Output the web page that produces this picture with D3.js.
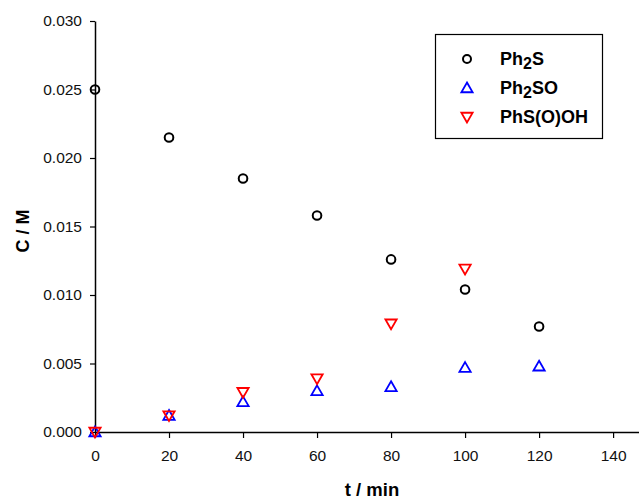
<!DOCTYPE html>
<html>
<head>
<meta charset="utf-8">
<script src="https://cdn.jsdelivr.net/npm/d3@7"></script>
<style>
  body { margin: 0; background: #fff; }
  text { font-family: Arial, "Liberation Sans", sans-serif; }
</style>
</head>
<body>
<div id="chart"></div>
<script>

// data
var times = [0, 20, 40, 60, 80, 100, 120];
var ph2s = [0.0250, 0.0215, 0.0185, 0.0158, 0.0126, 0.0104, 0.0077];
var ph2so = [0.0000, 0.0012, 0.0022, 0.0030, 0.0033, 0.0047, 0.0048];
var phsooh = [0.0000, 0.0012, 0.0029, 0.0039, 0.0079, 0.0119];
var xTicks = [0, 20, 40, 60, 80, 100, 120, 140];
var yTicks = [0, 0.005, 0.010, 0.015, 0.020, 0.025, 0.030];

var width = 639, height = 499;
var margin = {left: 95, top: 21, right: 0, bottom: 67};

var svg = d3.select("#chart")
    .append("svg")
    .attr("width", width)
    .attr("height", height);

var x = d3.scaleLinear()
    .domain([0, 147])
    .range([margin.left, width - margin.right]);

var y = d3.scaleLinear()
    .domain([0, 0.030])
    .range([height - margin.bottom, margin.top]);

var xAxis = svg.append("g")
    .attr("transform", "translate(0," + y(0) + ")")
    .call(d3.axisBottom(x).tickValues(xTicks).tickSize(6).tickPadding(12).tickSizeOuter(0));

var yAxis = svg.append("g")
    .attr("transform", "translate(" + x(0) + ",0)")
    .call(d3.axisLeft(y).tickValues(yTicks).tickFormat(d3.format(".3f")).tickSize(5).tickPadding(8).tickSizeOuter(0));

svg.selectAll(".domain").attr("stroke", "#000").attr("stroke-width", 1.5);
svg.selectAll(".tick line").attr("stroke", "#000").attr("stroke-width", 1.2);
svg.selectAll(".tick text")
    .attr("font-size", "15.5px")
    .attr("font-family", "Arial, 'Liberation Sans', sans-serif")
    .attr("fill", "#111");

// axis titles
svg.append("text")
    .attr("x", 372)
    .attr("y", 496)
    .attr("text-anchor", "middle")
    .attr("font-size", "18.5px")
    .attr("font-weight", "bold")
    .text("t / min");

svg.append("text")
    .attr("transform", "translate(29," + 231 + ") rotate(-90)")
    .attr("text-anchor", "middle")
    .attr("font-size", "18px")
    .attr("font-weight", "bold")
    .text("C / M");

var triUp = d3.symbol().type(d3.symbolTriangle).size(55);
var triDown = d3.symbol().type(d3.symbolTriangle).size(55);

function drawSeries(vals, kind, color) {
    var pts = vals.map(function(v, i) { return {t: times[i], c: v}; });
    if (kind == "circle") {
        svg.selectAll(null)
            .data(pts)
            .enter()
            .append("circle")
            .attr("cx", function(d) { return x(d.t); })
            .attr("cy", function(d) { return y(d.c); })
            .attr("r", 4.3)
            .attr("fill", "none")
            .attr("stroke", color)
            .attr("stroke-width", 2);
    } else {
        var rot = kind == "down" ? 180 : 0;
        var dy = kind == "down" ? -1 : 1;
        svg.selectAll(null)
            .data(pts)
            .enter()
            .append("path")
            .attr("d", kind == "down" ? triDown : triUp)
            .attr("transform", function(d) {
                return "translate(" + x(d.t) + "," + (y(d.c) + dy) + ") rotate(" + rot + ")";
            })
            .attr("fill", "none")
            .attr("stroke", color)
            .attr("stroke-width", 1.8);
    }
}

drawSeries(ph2s, "circle", "#000");
drawSeries(ph2so, "up", "#0000ff");
drawSeries(phsooh, "down", "#ff0000");

// legend
var legend = svg.append("g");
legend.append("rect")
    .attr("x", 435.5)
    .attr("y", 34.5)
    .attr("width", 167)
    .attr("height", 104)
    .attr("fill", "none")
    .attr("stroke", "#000")
    .attr("stroke-width", 1.2);

var legendItems = [
    {kind: "circle", color: "#000", name: "Ph", sub: "2", rest: "S"},
    {kind: "up", color: "#0000ff", name: "Ph", sub: "2", rest: "SO"},
    {kind: "down", color: "#ff0000", name: "PhS(O)OH", sub: "", rest: ""}
];

legendItems.forEach(function(it, i) {
    var ly = 59 + i * 29;
    if (it.kind == "circle") {
        legend.append("circle")
            .attr("cx", 467).attr("cy", ly)
            .attr("r", 4)
            .attr("fill", "none").attr("stroke", it.color).attr("stroke-width", 2);
    } else {
        legend.append("path")
            .attr("d", triUp)
            .attr("transform", "translate(467," + (ly + (it.kind == "down" ? -1 : 1)) + ") rotate(" + (it.kind == "down" ? 180 : 0) + ")")
            .attr("fill", "none").attr("stroke", it.color).attr("stroke-width", 1.8);
    }
    var t = legend.append("text")
        .attr("x", 500)
        .attr("y", ly + 6)
        .attr("font-size", "18px")
        .attr("font-weight", "bold");
    t.append("tspan").text(it.name);
    if (it.sub) {
        t.append("tspan").attr("dy", 4).attr("font-size", "16px").text(it.sub);
        t.append("tspan").attr("dy", -4).text(it.rest);
    }
});

</script>
</body>
</html>
